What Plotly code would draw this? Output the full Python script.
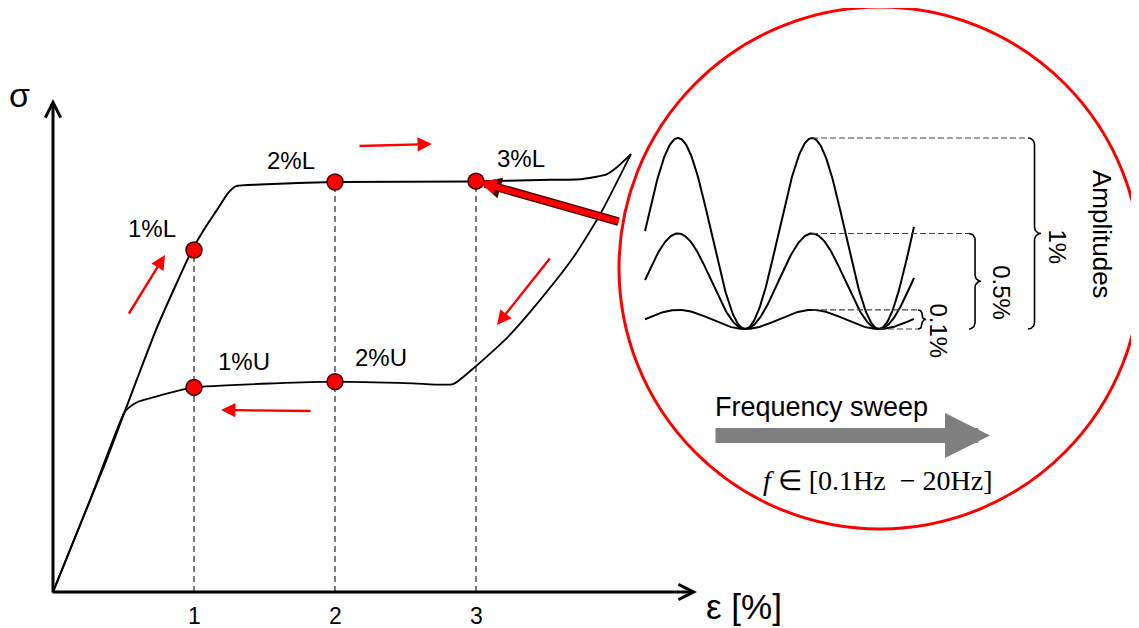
import numpy as np
import plotly.graph_objects as go

W, H = 1139, 628
OFF = 8  # page body margin of the browser

# ---------------- data: schematic stress-strain loop (strain in %, stress normalised) ----------------
load_eps = [0.0, 0.365, 0.730, 0.986, 1.078, 1.163, 1.241, 1.298, 1.468, 1.993, 2.986, 3.454, 3.738, 3.922, 3.993, 4.099]
load_sig = [0.0, 0.310, 0.639, 0.834, 0.888, 0.932, 0.973, 0.990, 0.994, 1.000, 1.001, 1.005, 1.007, 1.018, 1.034, 1.068]
unload_eps = [4.099, 3.879, 3.688, 3.454, 3.220, 2.993, 2.837, 2.553, 1.993, 1.574, 0.993, 0.766, 0.603, 0.536, 0.504, 0.262, 0.0]
unload_sig = [1.068, 0.920, 0.815, 0.712, 0.620, 0.549, 0.507, 0.509, 0.513, 0.509, 0.499, 0.480, 0.464, 0.449, 0.437, 0.224, 0.0]

pt_labels = ["1%L", "2%L", "3%L", "1%U", "2%U"]
pt_eps = [1, 2, 3, 1, 2]
pt_sig = [0.834, 1.000, 1.002, 0.499, 0.513]

tick_vals = [1, 2, 3]
tick_text = ["1", "2", "3"]

# ---------------- data: inset (frequency sweep at three amplitudes) ----------------
amp_values = [1.0, 0.5, 0.1]
amp_labels = ["1%", "0.5%", "0.1%"]
cycle_start, cycle_end = -0.246, 1.761   # in periods (peak at 0)
brace_left = [2.612, 2.172, 1.791]       # in periods

# ---------------- pixel scales (styling) ----------------
X0PX, Y0PX, PXE, PXS = 53, 592, 141, 410          # main axes
T0PX, V0PX, PXT, PXV = 678, 329, 134, 191         # inset axes

def ex(px): return (px - X0PX) / PXE
def sy(py): return (Y0PX - py) / PXS
def tx(px): return (px - T0PX) / PXT
def vy(py): return (V0PX - py) / PXV

fig = go.Figure()

# dashed verticals from the points on the loading branch
dx, dy = [], []
for lab, e, s in zip(pt_labels, pt_eps, pt_sig):
    if lab.endswith("L"):
        dx += [e, e, None]
        dy += [0, s, None]
fig.add_trace(go.Scatter(x=dx, y=dy, mode="lines",
                         line=dict(color="#111", width=1.1, dash="6px,4px"), hoverinfo="skip"))

# loading / unloading curves
fig.add_trace(go.Scatter(x=load_eps, y=load_sig, mode="lines",
                         line=dict(color="black", width=2, shape="spline", smoothing=0.5), hoverinfo="skip"))
fig.add_trace(go.Scatter(x=unload_eps, y=unload_sig, mode="lines",
                         line=dict(color="black", width=1.8, shape="spline", smoothing=0.5), hoverinfo="skip"))

# inset waveforms
for a in amp_values:
    t = np.linspace(cycle_start, cycle_end, 300)
    v = a * (1 + np.cos(2 * np.pi * t)) / 2
    fig.add_trace(go.Scatter(x=t, y=v, mode="lines", xaxis="x2", yaxis="y2",
                             line=dict(color="black", width=2), hoverinfo="skip"))

# inset dashed amplitude guides
gx, gy = [], []
for a, bl in zip(amp_values, brace_left):
    gx += [1.0, bl, None]
    gy += [a, a, None]
gx += [1.5, brace_left[2], None]
gy += [0, 0, None]
fig.add_trace(go.Scatter(x=gx, y=gy, mode="lines", xaxis="x2", yaxis="y2",
                         line=dict(color="#444", width=1.2, dash="6px,3px"), hoverinfo="skip"))

# braces
def brace(xl, vb, vt, w):
    h = (vt - vb) * PXV
    r = w / 2
    ph = np.linspace(0, np.pi / 2, 12)
    u = np.concatenate([r * np.sin(ph), [r], 2 * r - r * np.cos(ph), 2 * r - r * np.sin(ph), [r], r * np.cos(ph)])
    s = np.concatenate([r - r * np.cos(ph), [h / 2 - r], h / 2 - r + r * np.sin(ph),
                        h / 2 + r - r * np.cos(ph), [h - r], h - r + r * np.sin(ph)])
    return xl + u / PXT, vt - s / PXV

for a, bl, w in zip(amp_values, brace_left, [13, 12, 8]):
    bx, by = brace(bl, 0, a, w)
    fig.add_trace(go.Scatter(x=bx, y=by, mode="lines", xaxis="x2", yaxis="y2",
                             line=dict(color="black", width=1.6), hoverinfo="skip"))

# points
fig.add_trace(go.Scatter(x=pt_eps, y=pt_sig, mode="markers",
                         marker=dict(size=16, color="#ff0000", line=dict(color="#3a0000", width=1.5)),
                         hoverinfo="skip"))

ann = []
# axis arrows
ann.append(dict(x=ex(697), y=0, ax=ex(51), ay=0, xref="x", yref="y", axref="x", ayref="y",
                showarrow=True, arrowhead=5, arrowsize=1, arrowwidth=3, arrowcolor="black", text=""))
ann.append(dict(x=0, y=sy(99), ax=0, ay=sy(594), xref="x", yref="y", axref="x", ayref="y",
                showarrow=True, arrowhead=5, arrowsize=1, arrowwidth=3, arrowcolor="black", text=""))
# axis titles
ann.append(dict(x=ex(19), y=sy(95), xref="x", yref="y", text="σ", showarrow=False,
                font=dict(size=34, family="Liberation Sans", color="black")))
ann.append(dict(x=ex(704), y=sy(606), xref="x", yref="y", text="ε [%]", showarrow=False, xanchor="left",
                font=dict(size=35, family="Liberation Sans", color="black")))
# tick labels
for v, t in zip(tick_vals, tick_text):
    ann.append(dict(x=v, y=0, xref="x", yref="y", text=t, showarrow=False, yshift=-24,
                    font=dict(size=23, family="Liberation Sans", color="black")))
# point labels
offs = {"1%L": (-42, 22), "2%L": (-44, 22), "3%L": (45, 23), "1%U": (50, 26), "2%U": (46, 24)}
for lab, e, s in zip(pt_labels, pt_eps, pt_sig):
    ox, oy = offs[lab]
    ann.append(dict(x=e, y=s, xref="x", yref="y", text=lab, showarrow=False, xshift=ox, yshift=oy,
                    font=dict(size=24, family="Liberation Sans", color="black")))
# small red direction arrows
red_arrows = [((128, 315), (165, 255)), ((358, 146), (432, 144)),
              ((551, 257), (497, 325)), ((312, 411), (221, 410))]
for (p0, p1) in red_arrows:
    ann.append(dict(x=ex(p1[0]), y=sy(p1[1]), ax=ex(p0[0]), ay=sy(p0[1]), xref="x", yref="y",
                    axref="x", ayref="y", showarrow=True, arrowhead=2, arrowsize=1.2, arrowwidth=2.4,
                    arrowcolor="#ff0000", text=""))
# big red arrow from the inset to 3%L
for col, wdt, sz in [("#4a0000", 8.5, 0.5), ("#ff0000", 6, 0.55)]:
    ann.append(dict(x=pt_eps[2], y=pt_sig[2], ax=ex(620), ay=sy(222), xref="x", yref="y",
                    axref="x", ayref="y", showarrow=True, arrowhead=2, arrowsize=sz, arrowwidth=wdt,
                    arrowcolor=col, standoff=4, text=""))

# inset texts
ann.append(dict(x=tx(1102), y=vy(234), xref="x2", yref="y2", text="Amplitudes", textangle=90,
                showarrow=False, font=dict(size=26, family="Liberation Sans", color="black")))
amp_off = [(16, -13), (21, -11), (13, -12)]
for a, bl, lab, (ox, oy), w in zip(amp_values, brace_left, amp_labels, amp_off, [13, 12, 8]):
    ann.append(dict(x=bl + w / PXT, y=a / 2, xref="x2", yref="y2", text=lab, textangle=90,
                    showarrow=False, xshift=ox, yshift=oy,
                    font=dict(size=24, family="Liberation Sans", color="black")))
ann.append(dict(x=tx(713), y=vy(407), xref="x2", yref="y2", text="Frequency sweep", xanchor="left",
                showarrow=False, font=dict(size=27, family="Liberation Sans", color="black")))
ann.append(dict(x=tx(990), y=vy(435.5), ax=tx(714), ay=vy(435.5), xref="x2", yref="y2",
                axref="x2", ayref="y2", showarrow=True, arrowhead=2, arrowsize=0.6, arrowwidth=15,
                arrowcolor="#7f7f7f", text=""))
ann.append(dict(x=tx(878), y=vy(480), xref="x2", yref="y2",
                text="<i>f</i> ∈ [0.1Hz  − 20Hz]", showarrow=False,
                font=dict(size=28, family="Liberation Serif", color="black")))

# red circle
FW, FH = W - OFF, H - OFF
shapes = [dict(type="circle", xref="paper", yref="paper",
               x0=(880 - 261 - OFF) / FW, x1=(880 + 261 - OFF) / FW,
               y0=1 - (268 + 261 - OFF) / FH, y1=1 - (268 - 261 - OFF) / FH,
               line=dict(color="#ff0000", width=3))]

fig.update_layout(
    width=FW, height=FH, margin=dict(l=0, r=0, t=0, b=0),
    paper_bgcolor="white", plot_bgcolor="white", showlegend=False,
    xaxis=dict(range=[ex(OFF), ex(W)], visible=False, domain=[0, 1]),
    yaxis=dict(range=[sy(H), sy(OFF)], visible=False, domain=[0, 1]),
    xaxis2=dict(range=[tx(OFF), tx(W)], visible=False, overlaying="x"),
    yaxis2=dict(range=[vy(H), vy(OFF)], visible=False, overlaying="y"),
    annotations=ann, shapes=shapes,
)

fig.write_html("out.html")
